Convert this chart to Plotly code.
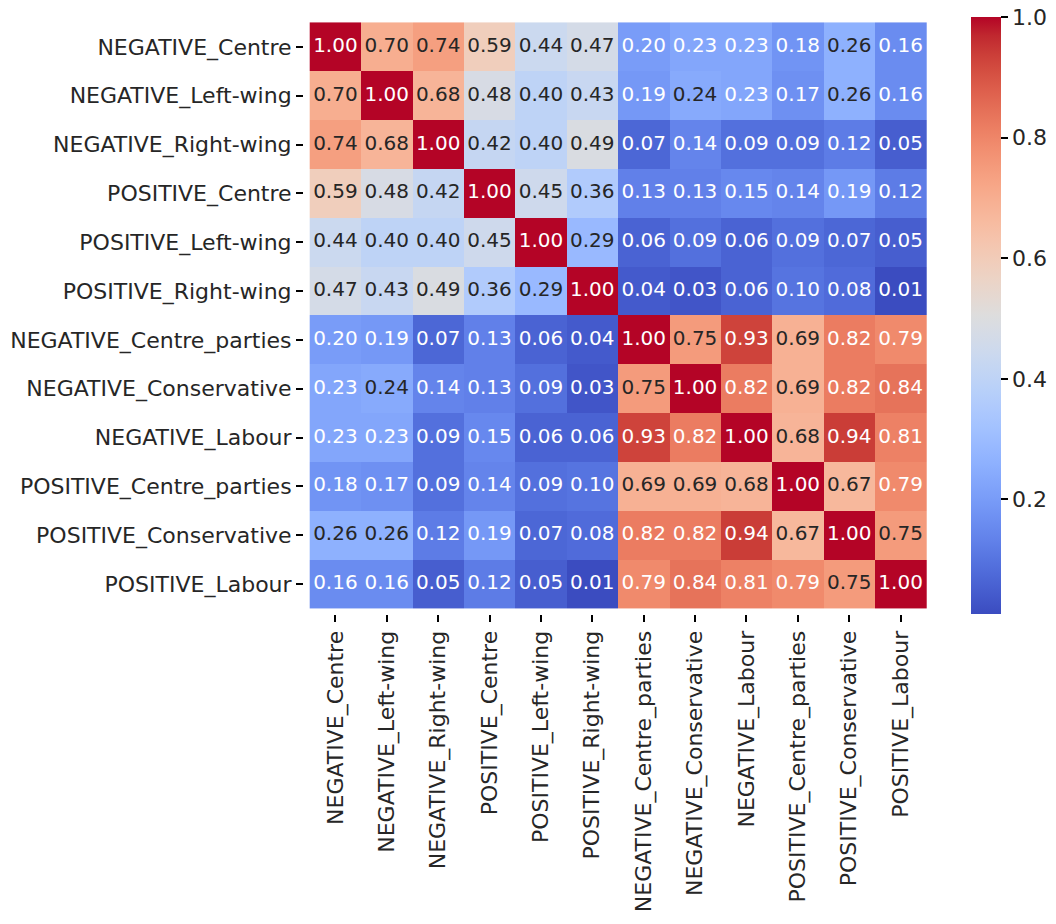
import numpy as np
import plotly.graph_objects as go

labels = [
    "NEGATIVE_Centre", "NEGATIVE_Left-wing", "NEGATIVE_Right-wing",
    "POSITIVE_Centre", "POSITIVE_Left-wing", "POSITIVE_Right-wing",
    "NEGATIVE_Centre_parties", "NEGATIVE_Conservative", "NEGATIVE_Labour",
    "POSITIVE_Centre_parties", "POSITIVE_Conservative", "POSITIVE_Labour",
]

row_neg_centre = [1.00, 0.70, 0.74, 0.59, 0.44, 0.47, 0.20, 0.23, 0.23, 0.18, 0.26, 0.16]
row_neg_left = [0.70, 1.00, 0.68, 0.48, 0.40, 0.43, 0.19, 0.24, 0.23, 0.17, 0.26, 0.16]
row_neg_right = [0.74, 0.68, 1.00, 0.42, 0.40, 0.49, 0.07, 0.14, 0.09, 0.09, 0.12, 0.05]
row_pos_centre = [0.59, 0.48, 0.42, 1.00, 0.45, 0.36, 0.13, 0.13, 0.15, 0.14, 0.19, 0.12]
row_pos_left = [0.44, 0.40, 0.40, 0.45, 1.00, 0.29, 0.06, 0.09, 0.06, 0.09, 0.07, 0.05]
row_pos_right = [0.47, 0.43, 0.49, 0.36, 0.29, 1.00, 0.04, 0.03, 0.06, 0.10, 0.08, 0.01]
row_neg_cparties = [0.20, 0.19, 0.07, 0.13, 0.06, 0.04, 1.00, 0.75, 0.93, 0.69, 0.82, 0.79]
row_neg_cons = [0.23, 0.24, 0.14, 0.13, 0.09, 0.03, 0.75, 1.00, 0.82, 0.69, 0.82, 0.84]
row_neg_labour = [0.23, 0.23, 0.09, 0.15, 0.06, 0.06, 0.93, 0.82, 1.00, 0.68, 0.94, 0.81]
row_pos_cparties = [0.18, 0.17, 0.09, 0.14, 0.09, 0.10, 0.69, 0.69, 0.68, 1.00, 0.67, 0.79]
row_pos_cons = [0.26, 0.26, 0.12, 0.19, 0.07, 0.08, 0.82, 0.82, 0.94, 0.67, 1.00, 0.75]
row_pos_labour = [0.16, 0.16, 0.05, 0.12, 0.05, 0.01, 0.79, 0.84, 0.81, 0.79, 0.75, 1.00]

cbar_ticks = [0.2, 0.4, 0.6, 0.8, 1.0]

z = np.array([row_neg_centre, row_neg_left, row_neg_right, row_pos_centre,
              row_pos_left, row_pos_right, row_neg_cparties, row_neg_cons,
              row_neg_labour, row_pos_cparties, row_pos_cons, row_pos_labour])

# coolwarm (Moreland) colormap samples
cw = [
    (59, 76, 192), (68, 90, 204), (77, 104, 215), (87, 117, 225), (98, 130, 234),
    (108, 142, 241), (119, 154, 247), (130, 165, 251), (141, 176, 254), (152, 185, 255),
    (163, 194, 255), (174, 201, 253), (184, 208, 249), (194, 213, 244), (204, 217, 238),
    (213, 219, 230), (221, 221, 221), (229, 216, 209), (236, 211, 197), (241, 204, 185),
    (245, 196, 173), (247, 187, 160), (247, 177, 148), (247, 166, 135), (244, 154, 123),
    (241, 141, 111), (236, 127, 99), (229, 112, 88), (222, 96, 77), (213, 80, 66),
    (203, 62, 56), (192, 40, 47), (180, 4, 38),
]
n = len(cw)
pos = np.linspace(0, 1, n)
colorscale = [[float(p), f"rgb({c[0]},{c[1]},{c[2]})"] for p, c in zip(pos, cw)]
cw_arr = np.array(cw, dtype=float)

vmin, vmax = float(z.min()), float(z.max())


def color_at(v):
    t = (v - vmin) / (vmax - vmin)
    return np.array([np.interp(t, pos, cw_arr[:, k]) for k in range(3)]) / 255.0


def lum(rgb):
    rgb = np.where(rgb <= 0.03928, rgb / 12.92, ((rgb + 0.055) / 1.055) ** 2.4)
    return float(rgb.dot([0.2126, 0.7152, 0.0722]))


xs, ys, texts, tcols = [], [], [], []
for i, rl in enumerate(labels):
    for j, cl in enumerate(labels):
        v = z[i, j]
        xs.append(cl)
        ys.append(rl)
        texts.append(f"{v:.2f}")
        tcols.append("#262626" if lum(color_at(v)) > 0.40 else "#ffffff")

L, R, T, B = 304, 932, 17, 614
W, H = 1056, 924

fig = go.Figure()
fig.add_trace(go.Heatmap(
    z=z, x=labels, y=labels, colorscale=colorscale, zmin=vmin, zmax=vmax,
    xgap=0, ygap=0, hoverinfo="skip",
    colorbar=dict(
        thickness=30, len=1.0, lenmode="fraction", y=0.5, yanchor="middle",
        x=(971 - L) / (R - L), xanchor="left", xpad=0, ypad=0,
        outlinewidth=0, tickvals=cbar_ticks, ticktext=[f"{t:.1f}" for t in cbar_ticks],
        ticks="outside", ticklen=7, tickwidth=1.5, tickcolor="#000",
        tickfont=dict(family="DejaVu Sans", size=22, color="#262626"),
    ),
))
fig.add_trace(go.Scatter(
    x=xs, y=ys, mode="text", text=texts,
    textfont=dict(family="DejaVu Sans", size=20, color=tcols),
    hoverinfo="skip", showlegend=False,
))

fig.update_layout(
    width=W, height=H,
    margin=dict(l=L, r=W - R, t=T, b=H - B, autoexpand=False),
    paper_bgcolor="white", plot_bgcolor="white",
    font=dict(family="DejaVu Sans", size=22, color="#262626"),
    showlegend=False,
    xaxis=dict(
        type="category", tickangle=-90, ticks="outside", ticklen=7, tickwidth=1.5,
        tickcolor="#000", showgrid=False, zeroline=False, showline=False,
        tickfont=dict(size=22), automargin=False,
    ),
    yaxis=dict(
        type="category", autorange="reversed", ticks="outside", ticklen=7, tickwidth=1.5,
        tickcolor="#000", showgrid=False, zeroline=False, showline=False,
        tickfont=dict(size=22), automargin=False,
    ),
)

fig.write_html("out.html")
